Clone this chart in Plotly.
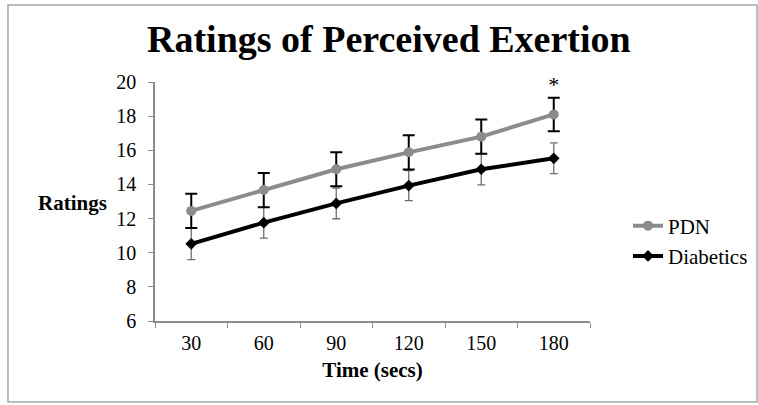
import plotly.graph_objects as go

times = ["30", "60", "90", "120", "150", "180"]
pdn = [12.45, 13.67, 14.89, 15.88, 16.8, 18.1]
pdn_err = [1.0, 1.0, 1.0, 1.0, 1.0, 0.98]
diab = [10.52, 11.76, 12.89, 13.93, 14.89, 15.53]
diab_err = [0.92, 0.9, 0.9, 0.88, 0.92, 0.9]
y_ticks = [6, 8, 10, 12, 14, 16, 18, 20]
sig_marks = ["", "", "", "", "", "*"]

SERIF = "Liberation Serif"

fig = go.Figure()
fig.add_trace(go.Scatter(
    x=times, y=diab, name="Diabetics", mode="lines+markers",
    line=dict(color="black", width=4),
    marker=dict(symbol="diamond", size=9, color="black"),
    error_y=dict(type="data", array=diab_err, color="#6f6f6f", thickness=1.3, width=4),
    legendrank=2,
))
fig.add_trace(go.Scatter(
    x=times, y=pdn, name="PDN", mode="lines+markers",
    line=dict(color="#8c8c8c", width=4),
    marker=dict(symbol="circle", size=10, color="#8c8c8c"),
    error_y=dict(type="data", array=pdn_err, color="black", thickness=2, width=6),
    legendrank=1,
))
fig.add_trace(go.Scatter(
    x=times, y=[p + e for p, e in zip(pdn, pdn_err)], mode="text", text=sig_marks,
    textposition="top center", showlegend=False, hoverinfo="skip", cliponaxis=False,
    textfont=dict(family=SERIF, size=22, color="black"),
))

fig.add_annotation(xref="paper", yref="paper", x=-0.19, y=0.495, text="<b>Ratings</b>",
                   showarrow=False, xanchor="center", yanchor="middle",
                   font=dict(family=SERIF, size=21, color="black"))

fig.update_layout(
    width=758, height=405,
    margin=dict(l=155, r=168, t=82, b=84, autoexpand=False),
    paper_bgcolor="white", plot_bgcolor="white",
    title=dict(text="<b>Ratings of Perceived Exertion</b>", x=0.513, xanchor="center",
               y=0.905, yanchor="middle", font=dict(family=SERIF, size=38, color="black")),
    font=dict(family=SERIF, size=20, color="black"),
    legend=dict(xref="container", yref="container", x=0.8285, y=0.405,
                xanchor="left", yanchor="middle",
                font=dict(family=SERIF, size=21, color="black"),
                bgcolor="rgba(0,0,0,0)", tracegroupgap=8, itemwidth=30),
    showlegend=True,
    shapes=[dict(type="rect", xref="paper", yref="paper", x0=-0.338, x1=1.384,
                 y0=-0.339, y1=1.322, line=dict(color="#a6a6a6", width=1.5))],
)
fig.update_xaxes(type="category", range=[-0.5, 5.5], showline=True, linecolor="#8c8c8c",
                 linewidth=1.5, ticks="outside", tickson="boundaries", ticklen=5,
                 tickcolor="#8c8c8c", showgrid=False, zeroline=False, automargin=False,
                 title=dict(text="<b>Time (secs)</b>", font=dict(family=SERIF, size=21), standoff=10),
                 tickfont=dict(family=SERIF, size=20), ticklabelstandoff=3)
fig.update_yaxes(range=[6, 20], tickvals=y_ticks, showline=True, linecolor="#8c8c8c",
                 linewidth=1.5, ticks="outside", ticklen=5, tickcolor="#8c8c8c",
                 showgrid=False, zeroline=False, tickfont=dict(family=SERIF, size=20),
                 ticklabelstandoff=8, automargin=False)

fig.write_html("out.html")
